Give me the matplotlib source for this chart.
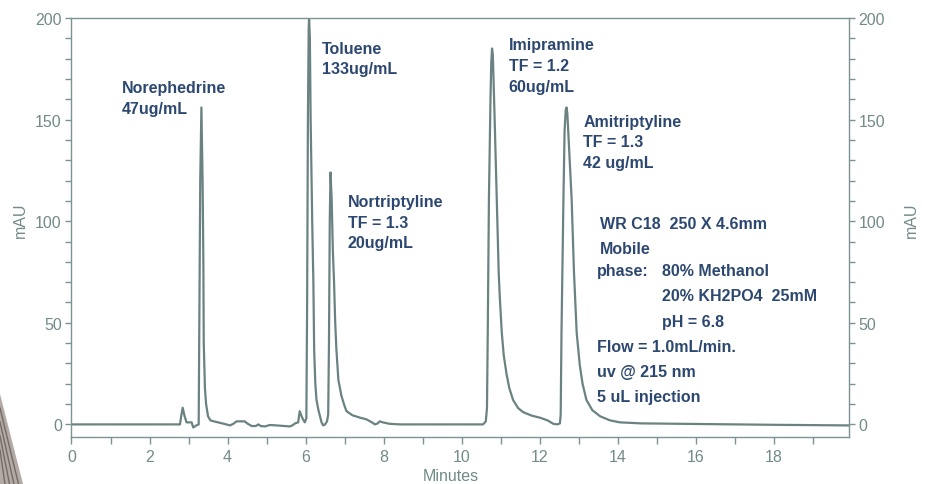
import matplotlib
matplotlib.use('Agg')
import matplotlib.pyplot as plt
from matplotlib.patches import Polygon
from matplotlib.ticker import MultipleLocator

plt.rcParams['font.family'] = ['Liberation Sans', 'DejaVu Sans']

# chromatogram trace (minutes, mAU)
minutes = [0.0, 2.78, 2.82, 2.85, 2.9, 2.95, 3.08, 3.12, 3.2, 3.26,
           3.28, 3.30, 3.33, 3.36, 3.38, 3.39, 3.42, 3.45, 3.50, 3.56, 3.63, 3.8, 3.97,
           4.06, 4.15, 4.23, 4.44, 4.52, 4.62, 4.72, 4.79, 4.85, 4.96, 5.08, 5.26, 5.6,
           5.68, 5.73, 5.81, 5.85, 5.92, 5.98,
           6.02, 6.04, 6.06, 6.08, 6.09, 6.11, 6.13, 6.17, 6.20, 6.22, 6.25, 6.28, 6.33,
           6.37, 6.41, 6.45, 6.5, 6.55, 6.58,
           6.60, 6.62, 6.64, 6.67, 6.70, 6.73, 6.76, 6.79, 6.84, 6.92, 7.0, 7.05, 7.2,
           7.4, 7.56, 7.7, 7.78, 7.85, 7.9, 7.98, 8.15, 8.42, 10.55,
           10.62, 10.65, 10.67, 10.70, 10.74, 10.76, 10.78, 10.80, 10.84, 10.90, 10.95,
           10.98, 11.03, 11.08, 11.15, 11.22, 11.32, 11.45, 11.58, 11.8, 12.01, 12.2,
           12.35, 12.45, 12.52,
           12.54, 12.56, 12.61, 12.64, 12.67, 12.69, 12.71, 12.75, 12.82, 12.88, 12.95,
           13.03, 13.1, 13.2, 13.35, 13.55, 13.8, 14.06, 14.6, 16.0, 18.0, 19.93]
mau = [0.0, 0.0, 5.0, 8.2, 4.0, 1.0, 1.0, -1.5, -0.5, 0.0,
       60, 120, 156, 120, 80, 40, 18, 10, 4.0, 2.0, 1.6, 0.8, 0.0,
       -0.5, 0.3, 1.5, 1.5, 0.3, -0.8, -0.8, 0.0, -0.8, -1.0, -0.3, -0.5, -1.0,
       -0.3, 0.5, 1.0, 6.5, 3.0, 1.0,
       3.0, 60, 150, 195, 200, 190, 150, 100, 70, 37, 20, 12, 7.0,
       4.0, 1.0, -0.5, 0.0, 1.5, 5.0,
       40, 100, 124, 110, 85, 70, 50, 37, 22, 14, 9.0, 6.5, 4.5,
       3.3, 2.5, 1.0, 0.0, 0.5, 1.5, 1.0, 0.3, 0.0, 0.0,
       1.5, 8.0, 45, 111, 160, 178, 185, 182, 155, 111, 75,
       62, 45, 34, 25, 18, 12, 8.0, 6.0, 4.3, 3.3, 2.0,
       0.3, 0.0, 0.5,
       5.0, 45, 111, 145, 155, 156, 153, 138, 111, 75, 45,
       29, 20, 12, 7.0, 4.0, 2.0, 1.0, 0.5, 0.2, -0.2, -0.5]

# peak labels: (x, baseline of first line, lines)
peak_labels = [
    (1.28, 163.5, ['Norephedrine', '47ug/mL']),
    (6.43, 183.0, ['Toluene', '133ug/mL']),
    (7.08, 107.5, ['Nortriptyline', 'TF = 1.3', '20ug/mL']),
    (11.21, 184.7, ['Imipramine', 'TF = 1.2', '60ug/mL']),
    (13.12, 147.0, ['Amitriptyline', 'TF = 1.3', '42 ug/mL']),
]

# conditions block: (x, baseline, text)
conditions = [
    (13.55, 96.6, 'WR C18  250 X 4.6mm'),
    (13.55, 84.2, 'Mobile'),
    (13.48, 73.4, 'phase:'),
    (15.13, 73.4, '80% Methanol'),
    (15.13, 61.1, '20% KH2PO4  25mM'),
    (15.13, 48.3, 'pH = 6.8'),
    (13.48, 36.0, 'Flow = 1.0mL/min.'),
    (13.48, 23.6, 'uv @ 215 nm'),
    (13.48, 11.3, '5 uL injection'),
]

line_color = '#6b8282'
axis_color = '#7b9393'
tick_color = '#728a8a'
text_color = '#2d4870'

W, H = 929, 485
fig = plt.figure(figsize=(W / 100, H / 100), dpi=100)
ax = fig.add_axes([71.5 / W, 47 / H, (849 - 71.5) / W, (438 - 19) / H])

ax.plot(minutes, mau, color=line_color, lw=1.6, solid_joinstyle='round')

ax.set_xlim(0, 19.93)
ax.set_ylim(-6.2, 200)
ax.xaxis.set_major_locator(MultipleLocator(2))
ax.xaxis.set_minor_locator(MultipleLocator(1))
ax.yaxis.set_major_locator(MultipleLocator(50))
ax.yaxis.set_minor_locator(MultipleLocator(10))

for s in ax.spines.values():
    s.set_color(axis_color)
    s.set_linewidth(1.0)

ax.tick_params(which='both', direction='out', color=axis_color, width=1.0,
               labelcolor=tick_color, labelsize=11.5, right=True, labelright=True)
ax.tick_params(axis='x', which='both', length=5, pad=4)
ax.tick_params(axis='y', which='both', length=4, pad=3)

# peak annotations
for x, y, lines in peak_labels:
    for i, t in enumerate(lines):
        ax.text(x, y - i * 10.2, t, color=text_color, fontsize=11.5,
                fontweight='bold', ha='left', va='baseline')

for x, y, t in conditions:
    ax.text(x, y, t, color=text_color, fontsize=11.5, fontweight='bold',
            ha='left', va='baseline')

# axis titles
fig.text(20 / W, 1 - 220 / H, 'mAU', rotation=90, color=tick_color,
         fontsize=11.5, ha='center', va='center')
fig.text(911 / W, 1 - 220 / H, 'mAU', rotation=90, color=tick_color,
         fontsize=11.5, ha='center', va='center')
fig.text(451 / W, 1 - 477 / H, 'Minutes', color=tick_color,
         fontsize=11.5, ha='center', va='center')

# bit of the background picture peeking in at the bottom left
wedge = Polygon([(0, 1 - 395 / H), (23 / W, 0), (0, 0)], closed=True,
                transform=fig.transFigure, facecolor='#b3aaa5', edgecolor='none')
fig.patches.append(wedge)
for k in range(1, 5):
    fig.add_artist(plt.Line2D([0, (23 - k * 4.5) / W], [1 - (395 + k * 14) / H, 0],
                              transform=fig.transFigure, color='#756b66', lw=1.0))

fig.savefig('out.png', dpi=100)
